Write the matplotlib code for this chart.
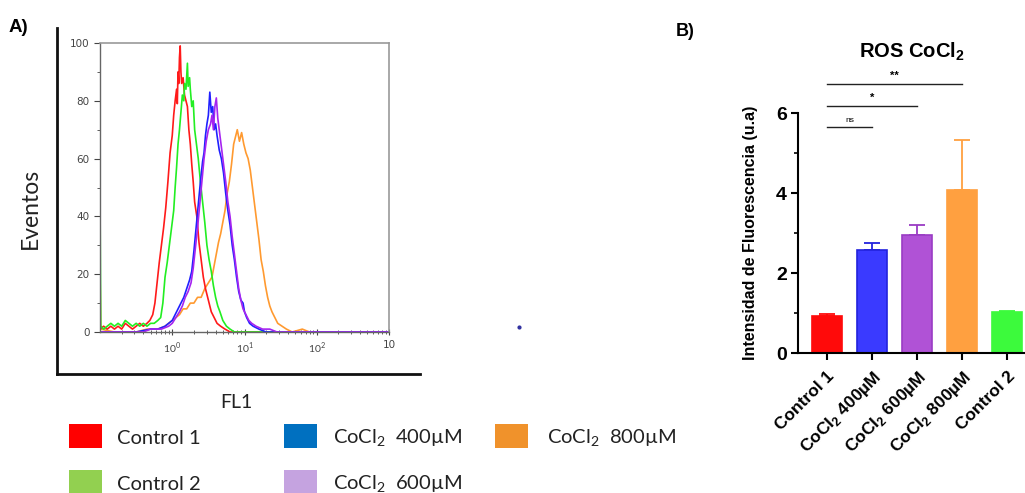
import matplotlib
matplotlib.use("Agg")
import matplotlib.pyplot as plt
import numpy as np
from matplotlib.patches import Rectangle
from matplotlib.lines import Line2D

plt.rcParams['mathtext.fontset'] = 'custom'
plt.rcParams['mathtext.rm'] = 'Lato'
plt.rcParams['mathtext.bf'] = 'Liberation Sans:bold'

# ---------------- Panel A data (log10 FL1, events) ----------------
ctrl1_logfl1 = [-1.00, -0.95, -0.90, -0.85, -0.80, -0.75, -0.70, -0.65, -0.60, -0.55, -0.50, -0.45,
                -0.40, -0.35, -0.31, -0.27, -0.24, -0.21, -0.18, -0.15, -0.12, -0.09, -0.06, -0.03,
                0.00, 0.02, 0.04, 0.06, 0.07, 0.08, 0.09, 0.10, 0.11, 0.12, 0.13, 0.15, 0.17, 0.19,
                0.21, 0.23, 0.25, 0.27, 0.29, 0.31, 0.34, 0.37, 0.40, 0.43, 0.46, 0.50, 0.54, 0.58,
                0.62, 0.67, 0.73, 0.80, 3.00]
ctrl1_events = [1, 2, 1, 2, 1, 2, 1, 3, 2, 1, 2, 3,
                2, 3, 4, 6, 10, 17, 24, 30, 36, 43, 52, 62,
                68, 75, 80, 84, 79, 90, 86, 95, 99, 90, 86, 88, 82, 80,
                78, 70, 65, 58, 52, 45, 40, 31, 25, 19, 15, 11, 7, 5,
                3, 2, 1, 0, 0]

ctrl2_logfl1 = [-1.00, -0.99, -0.95, -0.90, -0.85, -0.80, -0.75, -0.70, -0.65, -0.60, -0.55, -0.50,
                -0.45, -0.40, -0.35, -0.30, -0.25, -0.20, -0.16, -0.13, -0.10, -0.07, -0.04, -0.01,
                0.02, 0.04, 0.06, 0.08, 0.10, 0.12, 0.14, 0.16, 0.17, 0.19, 0.21, 0.22, 0.24, 0.25,
                0.27, 0.29, 0.31, 0.33, 0.36, 0.39, 0.42, 0.45, 0.48, 0.51, 0.54, 0.57, 0.60, 0.63,
                0.66, 0.70, 0.75, 0.80, 0.86, 3.00]
ctrl2_events = [48, 2, 1, 2, 3, 2, 3, 2, 4, 3, 2, 3,
                2, 3, 2, 3, 3, 4, 5, 10, 19, 24, 30, 36,
                42, 50, 57, 65, 70, 76, 82, 80, 86, 84, 93, 85, 88, 84,
                78, 80, 70, 66, 60, 52, 45, 38, 30, 25, 21, 16, 12, 9,
                7, 4, 2, 1, 0, 0]

c400_logfl1 = [-1.00, -0.50, -0.30, -0.20, -0.10, -0.05, 0.00, 0.04, 0.08, 0.12, 0.16, 0.20,
               0.24, 0.27, 0.30, 0.33, 0.36, 0.39, 0.42, 0.44, 0.46, 0.48, 0.50, 0.52,
               0.54, 0.56, 0.58, 0.60, 0.62, 0.65, 0.68, 0.71, 0.74, 0.77, 0.80, 0.83,
               0.86, 0.89, 0.92, 0.95, 0.98, 1.00, 1.03, 1.07, 1.12, 1.20, 1.30, 3.00]
c400_events = [0, 0, 1, 1, 2, 3, 4, 6, 8, 10, 12, 15,
               18, 21, 28, 36, 44, 52, 59, 62, 68, 72, 75, 83,
               76, 78, 70, 72, 68, 63, 60, 55, 48, 42, 37, 30,
               25, 19, 14, 11, 10, 7, 5, 3, 2, 1, 0, 0]

c600_logfl1 = [-1.00, -0.40, -0.30, -0.15, -0.05, 0.00, 0.05, 0.10, 0.14, 0.18, 0.22, 0.26,
               0.29, 0.32, 0.35, 0.38, 0.41, 0.44, 0.47, 0.50, 0.53, 0.55, 0.57, 0.59,
               0.61, 0.63, 0.65, 0.68, 0.71, 0.74, 0.77, 0.80, 0.83, 0.86, 0.89, 0.92,
               0.95, 0.98, 1.02, 1.06, 1.10, 1.16, 1.25, 1.35, 1.45, 3.00]
c600_events = [0, 0, 1, 1, 2, 3, 5, 7, 9, 12, 14, 17,
               22, 29, 36, 44, 52, 60, 66, 70, 72, 75, 70, 78,
               81, 74, 70, 64, 58, 52, 45, 40, 33, 27, 21, 15,
               11, 8, 6, 4, 3, 2, 1, 1, 0, 0]

c800_logfl1 = [-1.00, -0.99, -0.80, -0.50, -0.35, -0.20, -0.10, 0.00, 0.05, 0.10, 0.15, 0.20,
               0.25, 0.30, 0.35, 0.40, 0.45, 0.50, 0.55, 0.58, 0.61, 0.64, 0.67, 0.70,
               0.73, 0.76, 0.79, 0.82, 0.85, 0.88, 0.90, 0.93, 0.96, 0.99, 1.02, 1.05,
               1.08, 1.11, 1.14, 1.17, 1.20, 1.23, 1.26, 1.29, 1.32, 1.35, 1.38, 1.42,
               1.46, 1.52, 1.58, 1.66, 1.80, 1.90, 3.00]
c800_events = [22, 1, 0, 0, 1, 1, 2, 4, 5, 6, 8, 8,
               10, 10, 12, 12, 15, 17, 19, 23, 27, 31, 34, 38,
               42, 48, 52, 58, 65, 68, 70, 66, 69, 65, 62, 60,
               56, 50, 44, 38, 32, 25, 21, 16, 12, 9, 7, 5,
               3, 2, 1, 0, 1, 0, 0]

hist_yticks = [0, 20, 40, 60, 80, 100]
hist_xticks = [1, 10, 100, 1000]
hist_xticklabels = ['$10^0$', '$10^1$', '$10^2$', '10']

# ---------------- Panel B data ----------------
groups = ['Control 1', 'CoCl$_\\mathbf{2}$ 400µM', 'CoCl$_\\mathbf{2}$ 600µM',
          'CoCl$_\\mathbf{2}$ 800µM', 'Control 2']
means = [0.93, 2.58, 2.95, 4.08, 1.03]
sems = [0.04, 0.17, 0.25, 1.25, 0.03]
bar_colors = ['#ff0a0a', '#3a3aff', '#b052d6', '#ffa040', '#3cfa3c']
bar_edges = ['#ff0a0a', '#2222dd', '#9a3cc4', '#ffa040', '#3cfa3c']
sig_pairs = [(0, 1), (0, 2), (0, 3)]
sig_heights = [5.65, 6.18, 6.73]
sig_labels = ['ns', '*', '**']

legend_labels = ['Control 1', 'CoCl$_\\mathrm{2}$  400µM', 'CoCl$_\\mathrm{2}$  800µM',
                 'Control 2', 'CoCl$_\\mathrm{2}$  600µM']
legend_colors = ['#ff0000', '#0070c0', '#f0922b', '#92d050', '#c5a3e0']

W, H = 1025, 493
fig = plt.figure(figsize=(W / 100, H / 100), dpi=100)


def fx(px):
    return px / W


def fy(py):
    return 1 - py / H


# outer L frame
frame = fig.add_axes([fx(57), fy(374), fx(420) - fx(57), fy(28) - fy(374)])
frame.set_xticks([]); frame.set_yticks([])
for s in ['top', 'right']:
    frame.spines[s].set_visible(False)
for s in ['left', 'bottom']:
    frame.spines[s].set_linewidth(2)
    frame.spines[s].set_color('#111111')
frame.patch.set_alpha(0)

# histogram axes
ax = fig.add_axes([fx(100), fy(332), fx(389) - fx(100), fy(43) - fy(332)])
ax.set_xscale('log')
series = [
    (c800_logfl1, c800_events, '#ff9a30'),
    (ctrl1_logfl1, ctrl1_events, '#ff1a1a'),
    (ctrl2_logfl1, ctrl2_events, '#22ee22'),
    (c400_logfl1, c400_events, '#2020ff'),
    (c600_logfl1, c600_events, '#a624f0'),
]
for lx, ev, col in series:
    ax.plot(10 ** np.array(lx), ev, color=col, lw=1.2)
ax.set_xlim(0.1, 1000)
ax.set_ylim(0, 100)
ax.set_yticks(hist_yticks)
ax.set_yticks(range(0, 101, 10), minor=True)
ax.set_xticks(hist_xticks)
ax.set_xticklabels(hist_xticklabels)
ax.tick_params(axis='both', which='major', labelsize=7.5, colors='#444444', length=4, width=0.8)
ax.tick_params(axis='y', which='minor', length=2.5, width=0.6, colors='#444444')
ax.tick_params(axis='x', which='minor', length=3, width=0.6, colors='#444444', direction='inout')
ax.tick_params(axis='x', which='major', direction='inout', length=5)
for s in ['top', 'right']:
    ax.spines[s].set_color('#999999')
    ax.spines[s].set_linewidth(1.2)
for s in ['left', 'bottom']:
    ax.spines[s].set_color('#666666')
    ax.spines[s].set_linewidth(1.0)

fig.text(fx(30), fy(208), 'Eventos', fontsize=16.5, family='Lato', rotation=90,
         ha='center', va='center', color='#222222')
fig.text(fx(236), fy(402), 'FL1', fontsize=14, family='Lato', ha='center', va='center',
         color='#222222')
fig.text(fx(9), fy(27), 'A)', fontsize=13.5, family='Liberation Sans', weight='bold',
         ha='left', va='center')
fig.text(fx(676), fy(31), 'B)', fontsize=13, family='Liberation Sans', weight='bold',
         ha='left', va='center')

# stray dot
fig.add_artist(Line2D([fx(519)], [fy(327)], marker='o', markersize=2, color='#3030a0', lw=0))

# legend
leg_pos = [(69, 117, 436), (284, 333, 436), (495, 547, 436), (69, 117, 482), (284, 333, 482)]
for (sx, tx, cy), lab, col in zip(leg_pos, legend_labels, legend_colors):
    sw = 33
    fig.add_artist(Rectangle((fx(sx), fy(cy + 12)), fx(sx + sw) - fx(sx), fy(cy - 12) - fy(cy + 12),
                             transform=fig.transFigure, facecolor=col, edgecolor='none'))
    fig.text(fx(tx), fy(cy + 2), lab, fontsize=14.5, family='Lato', ha='left', va='center',
             color='#222222')

# bar chart
bx = fig.add_axes([fx(798), fy(353), fx(1025) - fx(798), fy(113) - fy(353)])
xpos = np.arange(len(groups))
bx.bar(xpos, means, width=0.66, color=bar_colors, edgecolor=bar_edges, linewidth=1.2, zorder=2)
for i in range(len(groups)):
    bx.errorbar(xpos[i], means[i], yerr=[[0], [sems[i]]], color=bar_edges[i], capsize=6,
                elinewidth=1.3, capthick=1.3, zorder=1)
bx.set_xlim(-0.64, 4.4)
bx.set_ylim(0, 6)
bx.set_yticks([0, 2, 4, 6])
bx.set_yticks([1, 3, 5], minor=True)
bx.set_xticks(xpos)
bx.set_xticklabels(groups, rotation=45, ha='right', rotation_mode='anchor',
                   fontsize=12.5, weight='bold', family='Liberation Sans')
for t in bx.get_yticklabels():
    t.set_fontweight('bold'); t.set_family('Liberation Sans'); t.set_fontsize(14)
bx.tick_params(axis='x', which='major', length=5, width=1.5, pad=6)
bx.tick_params(axis='y', which='major', length=5, width=1.5, pad=3)
bx.tick_params(axis='y', which='minor', length=3, width=1.2)
for s in ['top', 'right']:
    bx.spines[s].set_visible(False)
for s in ['left', 'bottom']:
    bx.spines[s].set_linewidth(1.5)
bx.patch.set_alpha(0)
bx.set_ylabel('Intensidad de Fluorescencia (u.a)', fontsize=11.5, weight='bold',
              family='Liberation Sans', labelpad=13)
bx.set_title('ROS CoCl$_\\mathbf{2}$', fontsize=14.5, weight='bold', family='Liberation Sans',
             pad=40)
for (a, b), h, lab in zip(sig_pairs, sig_heights, sig_labels):
    bx.plot([xpos[a], xpos[b]], [h, h], color='#222222', lw=1, clip_on=False)
    bx.text((xpos[a] + xpos[b]) / 2, h + 0.08, lab, ha='center', va='bottom',
            fontsize=6 if lab == 'ns' else 8, weight='normal' if lab == 'ns' else 'bold',
            family='Liberation Sans')

fig.savefig('out.png', dpi=100)
